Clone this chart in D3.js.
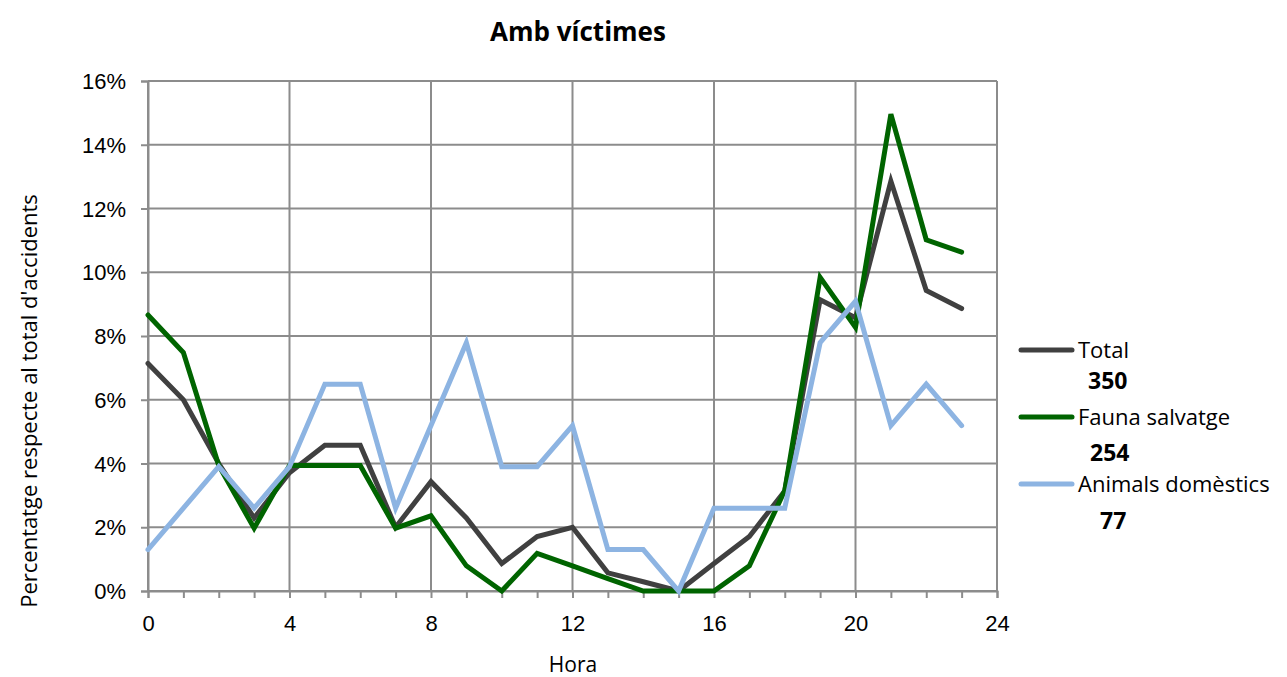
<!DOCTYPE html>
<html>
<head>
<meta charset="utf-8">
<script src="https://cdn.jsdelivr.net/npm/d3@7"></script>
<style>
  body { margin: 0; background: #fff; }
  svg { display: block; font-family: "Open Sans", "Liberation Sans", sans-serif; }
</style>
</head>
<body>
<svg id="chart" width="1287" height="677"></svg>
<script>
// Hourly share of accidents with victims (%)
const hours = d3.range(0, 24);
const totalPct = [7.14, 6.00, 4.00, 2.29, 3.71, 4.57, 4.57, 2.00, 3.43, 2.29, 0.86, 1.71,
                  2.00, 0.57, 0.29, 0.00, 0.86, 1.71, 3.14, 9.14, 8.57, 12.86, 9.43, 8.86];
const faunaPct = [8.66, 7.48, 3.94, 1.97, 3.94, 3.94, 3.94, 1.97, 2.36, 0.79, 0.00, 1.18,
                  0.79, 0.39, 0.00, 0.00, 0.00, 0.79, 3.15, 9.84, 8.27, 14.96, 11.02, 10.63];
const domesticPct = [1.30, 2.60, 3.90, 2.60, 3.90, 6.49, 6.49, 2.60, 5.19, 7.79, 3.90, 3.90,
                     5.19, 1.30, 1.30, 0.00, 2.60, 2.60, 2.60, 7.79, 9.09, 5.19, 6.49, 5.19];
const seriesNames = ["Total", "Fauna salvatge", "Animals domèstics"];
const seriesTotals = ["350", "254", "77"];
const xTicks = [0, 4, 8, 12, 16, 20, 24];
const yTicks = [0, 2, 4, 6, 8, 10, 12, 14, 16];

const colors = ["#404040", "#006400", "#8DB4E2"];
const series = [totalPct, faunaPct, domesticPct];

const svg = d3.select("#chart");
const plotL = 148, plotR = 997, plotT = 81, plotB = 591;

const x = d3.scaleLinear().domain([0, 24]).range([plotL, plotR]);
const y = d3.scaleLinear().domain([0, 16]).range([plotB, plotT]);

const grid = "#8c8c8c";

// horizontal gridlines
svg.append("g").selectAll("line").data(yTicks).join("line")
  .attr("x1", plotL).attr("x2", plotR)
  .attr("y1", d => y(d)).attr("y2", d => y(d))
  .attr("stroke", grid).attr("stroke-width", 2);

// vertical gridlines
svg.append("g").selectAll("line").data(xTicks).join("line")
  .attr("x1", d => x(d)).attr("x2", d => x(d))
  .attr("y1", plotT).attr("y2", plotB)
  .attr("stroke", grid).attr("stroke-width", 2);

// y axis ticks + labels
const yAxis = d3.axisLeft(y).tickValues(yTicks).tickSize(7).tickFormat(d => d + "%");
const gy = svg.append("g").attr("transform", `translate(${plotL},0)`).call(yAxis);
gy.select(".domain").attr("stroke", grid).attr("stroke-width", 2);
gy.selectAll(".tick line").attr("stroke", grid).attr("stroke-width", 2);
gy.selectAll(".tick text").attr("font-size", 22).attr("fill", "#000").attr("x", -22).attr("dy", "0.35em");

// x axis: minor tick every hour, labels every 4
const xAxis = d3.axisBottom(x).tickValues(d3.range(0, 25)).tickSize(7)
  .tickFormat(d => (d % 4 === 0 ? d : ""));
const gx = svg.append("g").attr("transform", `translate(0,${plotB})`).call(xAxis);
gx.select(".domain").attr("stroke", grid).attr("stroke-width", 2);
gx.selectAll(".tick line").attr("stroke", grid).attr("stroke-width", 2);
gx.selectAll(".tick text").attr("font-size", 22).attr("fill", "#000").attr("y", 24).attr("dy", "0.71em");

// lines
const line = d3.line().x((d, i) => x(hours[i])).y(d => y(d));
series.forEach((s, i) => {
  svg.append("path").datum(s)
    .attr("fill", "none")
    .attr("stroke", colors[i])
    .attr("stroke-width", 5)
    .attr("stroke-linejoin", "miter")
    .attr("stroke-linecap", "round")
    .attr("d", line);
});

// title
svg.append("text").attr("x", 578).attr("y", 41).attr("text-anchor", "middle")
  .attr("font-size", 26).attr("font-weight", "bold").text("Amb víctimes");

// axis titles
svg.append("text").attr("x", 573).attr("y", 665).attr("dy", "0.35em").attr("text-anchor", "middle")
  .attr("font-size", 21).text("Hora");
svg.append("text")
  .attr("transform", `translate(37,${(plotT + plotB) / 2 + 65}) rotate(-90)`)
  .attr("text-anchor", "middle").attr("font-size", 22)
  .text("Percentatge respecte al total d'accidents");

// legend
const legY = [350, 417, 484];
const numY = [381, 453, 521];
const numX = [1088, 1090, 1100];
seriesNames.forEach((n, i) => {
  svg.append("line").attr("x1", 1021).attr("x2", 1072)
    .attr("y1", legY[i]).attr("y2", legY[i])
    .attr("stroke", colors[i]).attr("stroke-width", 5).attr("stroke-linecap", "round");
  svg.append("text").attr("x", 1078).attr("y", legY[i]).attr("dy", "0.35em")
    .attr("font-size", 22).text(n);
  svg.append("text").attr("x", numX[i]).attr("y", numY[i]).attr("dy", "0.35em")
    .attr("font-size", 23).attr("font-weight", "bold").text(seriesTotals[i]);
});
</script>
</body>
</html>
